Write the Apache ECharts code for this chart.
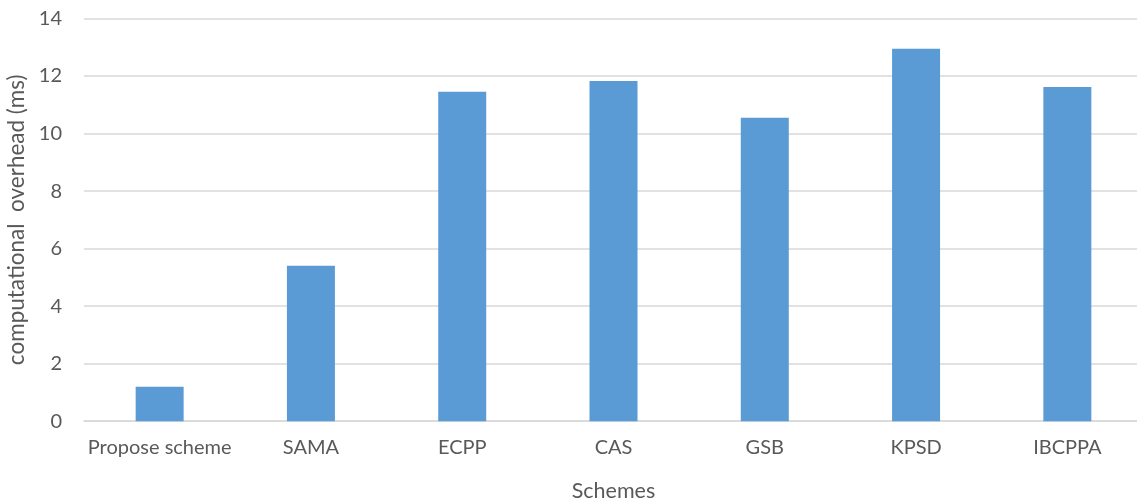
<!DOCTYPE html>
<html>
<head>
<meta charset="utf-8">
<script src="https://cdn.jsdelivr.net/npm/echarts@6/dist/echarts.min.js"></script>
<style>
html,body{margin:0;padding:0;background:#fff;}
#chart{width:1137px;height:498px;}
</style>
</head>
<body>
<div id="chart"></div>
<script>
// Schemes compared and their computational overhead in milliseconds
const schemes = ['Propose scheme', 'SAMA', 'ECPP', 'CAS', 'GSB', 'KPSD', 'IBCPPA'];
const overheadMs = [1.2, 5.4, 11.45, 11.83, 10.55, 12.95, 11.62];
const yTicks = { min: 0, max: 14, interval: 2 };

const labelFont = 'Lato, "Open Sans", sans-serif';
const textColor = '#595959';
const gridColor = '#d9d9d9';

const chart = echarts.init(document.getElementById('chart'));
chart.setOption({
  animation: false,
  backgroundColor: '#ffffff',
  grid: {
    left: 84, right: -6, top: 18.5, bottom: 76.8,
    containLabel: false,
    outerBoundsMode: 'none'
  },
  xAxis: {
    type: 'category',
    data: schemes,
    name: 'Schemes',
    nameLocation: 'middle',
    nameGap: 59,
    nameTextStyle: { color: textColor, fontSize: 21.5, fontFamily: labelFont },
    axisLine: { show: true, lineStyle: { color: gridColor, width: 1.5 } },
    axisTick: { show: false },
    axisLabel: { color: textColor, fontSize: 20, fontFamily: labelFont, margin: 16, interval: 0 }
  },
  yAxis: {
    type: 'value',
    min: yTicks.min,
    max: yTicks.max,
    interval: yTicks.interval,
    name: 'computational  overhead (ms)',
    nameLocation: 'middle',
    nameGap: 51,
    nameTextStyle: { color: textColor, fontSize: 22.5, fontFamily: labelFont },
    axisLine: { show: false },
    axisTick: { show: false },
    axisLabel: { color: textColor, fontSize: 20, fontFamily: labelFont, margin: 22 },
    splitLine: { show: true, lineStyle: { color: gridColor, width: 1.5 } }
  },
  series: [{
    type: 'bar',
    data: overheadMs,
    barWidth: 48,
    itemStyle: { color: '#5b9bd5' }
  }]
});
</script>
</body>
</html>
